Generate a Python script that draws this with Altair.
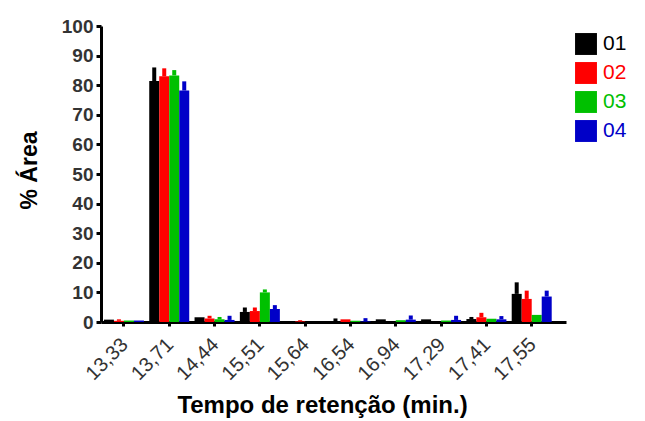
import altair as alt
import pandas as pd

categories = ["13,33", "13,71", "14,44", "15,51", "15,64", "16,54", "16,94", "17,29", "17,41", "17,55"]
series = ["01", "02", "03", "04"]
colors = ["#000000", "#ff0000", "#00c000", "#0000c8"]

mean_01 = [0.8, 81.4, 1.6, 3.4, 0.0, 0.2, 0.9, 0.9, 1.0, 9.5]
err_01 = [0.0, 4.6, 0.0, 1.5, 0.0, 1.0, 0.0, 0.0, 0.7, 3.9]
mean_02 = [0.4, 83.0, 1.2, 3.7, 0.2, 0.9, 0.0, 0.0, 1.6, 7.8]
err_02 = [0.5, 2.7, 0.9, 1.2, 0.4, 0.0, 0.0, 0.0, 1.5, 2.8]
mean_03 = [0.5, 83.3, 0.9, 10.0, 0.0, 0.4, 0.6, 0.5, 1.1, 2.4]
err_03 = [0.0, 1.8, 0.8, 1.0, 0.0, 0.0, 0.0, 0.0, 0.0, 0.0]
mean_04 = [0.5, 78.2, 0.7, 4.4, 0.0, 0.2, 0.8, 0.7, 0.9, 8.6]
err_04 = [0.0, 3.1, 1.4, 1.3, 0.0, 1.1, 1.4, 1.4, 1.1, 2.0]

y_ticks = [0, 10, 20, 30, 40, 50, 60, 70, 80, 90, 100]

rows = []
for s, means, errs in zip(series, [mean_01, mean_02, mean_03, mean_04], [err_01, err_02, err_03, err_04]):
    for c, m, e in zip(categories, means, errs):
        rows.append({"t": c, "s": s, "v": m, "e": e, "top": m + e})
df = pd.DataFrame(rows)

FONT = "Liberation Sans"

xscale = alt.Scale(domain=categories, paddingInner=0.117, paddingOuter=0.19, align=0.17)
yscale = alt.Scale(domain=[0, 100], nice=False)
xoff = alt.XOffset("s:N", scale=alt.Scale(domain=series, paddingInner=0, paddingOuter=0))
cscale = alt.Scale(domain=series, range=colors)

x_axis = alt.Axis(
    labelAngle=-45,
    labelFontSize=20,
    labelFont=FONT,
    labelColor="#333333",
    labelPadding=8,
    labelOffset=-6,
    labelOverlap=False,
    domainColor="black",
    domainWidth=3,
    tickColor="black",
    tickWidth=3,
    tickSize=4,
    titleFont=FONT,
    titleFontSize=24,
    titleFontWeight="bold",
    titleColor="black",
    titlePadding=10,
    titleX=221,
)

y_axis = alt.Axis(
    values=y_ticks,
    grid=False,
    labelOverlap=False,
    labelFontSize=19,
    labelFont=FONT,
    labelFontWeight="bold",
    labelColor="#333333",
    labelPadding=3,
    domainColor="black",
    domainWidth=3,
    tickColor="black",
    tickWidth=3,
    tickSize=5,
    titleFont=FONT,
    titleFontSize=23,
    titleFontWeight="bold",
    titleColor="black",
    titlePadding=20,
    titleY=144,
)

x_title = "Tempo de retenção (min.)"
y_title = "% Área"

bars = alt.Chart(df).mark_bar().encode(
    x=alt.X("t:N", scale=xscale, sort=categories, title=x_title, axis=x_axis),
    xOffset=xoff,
    y=alt.Y("v:Q", scale=yscale, title=y_title, axis=y_axis),
    color=alt.Color(
        "s:N",
        scale=cscale,
        legend=alt.Legend(
            title=None,
            orient="none",
            legendX=474,
            legendY=7,
            symbolType="square",
            symbolSize=480,
            symbolStrokeWidth=0,
            symbolOpacity=1,
            labelFontSize=21,
            labelFont=FONT,
            labelOffset=6,
            rowPadding=7,
            labelColor={"expr": "scale('color', datum.value)"},
        ),
    ),
)

errs = alt.Chart(df).transform_filter("datum.e > 0").mark_rule(strokeWidth=4).encode(
    x=alt.X("t:N", scale=xscale, sort=categories, title=x_title, axis=x_axis),
    xOffset=xoff,
    y=alt.Y("v:Q", scale=yscale, title=y_title, axis=y_axis),
    y2="top:Q",
    color=alt.Color("s:N", scale=cscale, legend=None),
)

chart = (
    alt.layer(bars, errs)
    .properties(
        width=465,
        height=296,
        autosize=alt.AutoSizeParams(type="none"),
        padding={"left": 93, "top": 18, "right": 71, "bottom": 97},
    )
    .configure_view(stroke=None)
    .configure_axis(grid=False)
)

chart.save("out.html", embed_options={"renderer": "svg", "actions": False})
